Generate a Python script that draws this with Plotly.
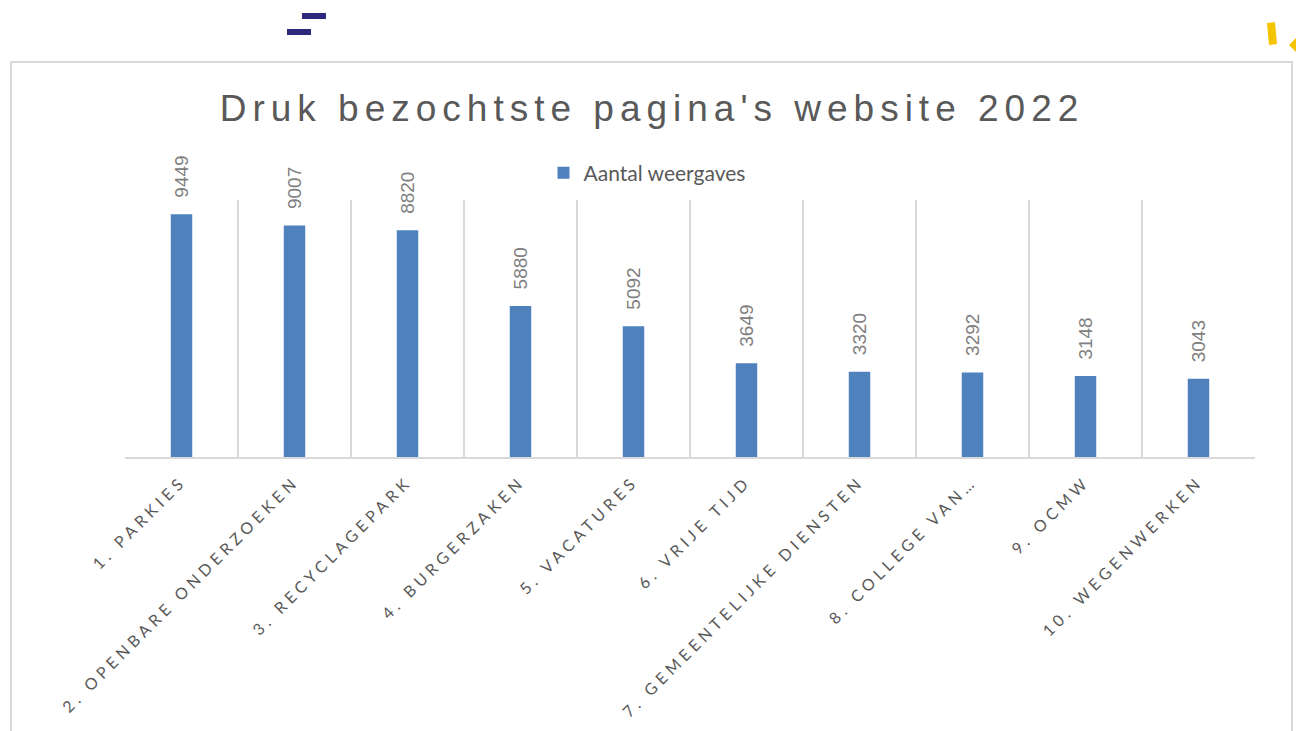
import plotly.graph_objects as go

categories = [
    "1. PARKIES",
    "2. OPENBARE ONDERZOEKEN",
    "3. RECYCLAGEPARK",
    "4. BURGERZAKEN",
    "5. VACATURES",
    "6. VRIJE TIJD",
    "7. GEMEENTELIJKE DIENSTEN",
    "8. COLLEGE VAN…",
    "9. OCMW",
    "10. WEGENWERKEN",
]
values = [9449, 9007, 8820, 5880, 5092, 3649, 3320, 3292, 3148, 3043]
series_name = "Aantal weergaves"
title_text = "Druk bezochtste pagina's website 2022"

W, H = 1296, 731
PL, PR, PT, PB = 125, 1255, 200, 457


def px_x(x):
    return (x - PL) / (PR - PL)


def px_y(y):
    return (PB - y) / (PB - PT)


GRID = "#d9d9d9"
TEXT = "#595959"
BAR = "#4f81bd"

fig = go.Figure()
fig.add_trace(go.Bar(
    x=categories, y=values, name=series_name,
    marker=dict(color=BAR, line=dict(width=0)),
    showlegend=True,
))

for c, v in zip(categories, values):
    fig.add_annotation(
        x=c, y=v, xref="x", yref="y", text=str(v), textangle=-90,
        showarrow=False, yanchor="bottom", xanchor="center", yshift=14,
        font=dict(family="Liberation Sans, Arial", size=19, color="#808080"),
    )

ticktext = [f'<span style="letter-spacing:4.4px">{c}</span>' for c in categories]

shapes = [
    # chart frame
    dict(type="rect", xref="paper", yref="paper",
         x0=px_x(11), x1=px_x(1292), y0=px_y(62), y1=px_y(760),
         line=dict(color=GRID, width=2), fillcolor="rgba(0,0,0,0)", layer="below"),
    # decorative navy dashes
    dict(type="rect", xref="paper", yref="paper",
         x0=px_x(302), x1=px_x(326), y0=px_y(13), y1=px_y(19),
         line=dict(width=0), fillcolor="#2b2a7c"),
    dict(type="rect", xref="paper", yref="paper",
         x0=px_x(287), x1=px_x(311), y0=px_y(29), y1=px_y(35),
         line=dict(width=0), fillcolor="#2b2a7c"),
]
# decorative yellow marks
p = [(1267, 23), (1275, 22), (1277, 44), (1269, 45)]
path = "M " + " L ".join(f"{px_x(a)},{px_y(b)}" for a, b in p) + " Z"
shapes.append(dict(type="path", xref="paper", yref="paper", path=path,
                   line=dict(width=0), fillcolor="#f5c400"))
p2 = [(1296, 38), (1289, 45), (1296, 52)]
path2 = "M " + " L ".join(f"{px_x(a)},{px_y(b)}" for a, b in p2) + " Z"
shapes.append(dict(type="path", xref="paper", yref="paper", path=path2,
                   line=dict(width=0), fillcolor="#f5c400"))

fig.update_layout(
    width=W, height=H, autosize=False,
    margin=dict(l=PL, r=W - PR, t=PT, b=H - PB, pad=0, autoexpand=False),
    paper_bgcolor="white", plot_bgcolor="white",
    bargap=0.81,
    title=dict(
        text=f'<span style="letter-spacing:6px">{title_text}</span>',
        x=px_x(652), xref="paper", xanchor="center",
        y=1 - 108 / H, yref="container", yanchor="middle",
        font=dict(family="Liberation Sans, Arial", size=37, color=TEXT),
    ),
    legend=dict(
        orientation="h", x=px_x(647), xanchor="center", y=px_y(173), yanchor="middle",
        font=dict(family="Lato, Calibri", size=21, color=TEXT),
        bgcolor="rgba(0,0,0,0)", itemsizing="constant",
    ),
    xaxis=dict(
        type="category", tickmode="array", tickvals=categories, ticktext=ticktext,
        tickangle=-45, tickson="boundaries", showgrid=True, gridcolor=GRID, gridwidth=1.5,
        showline=True, linecolor=GRID, linewidth=2, ticks="", ticklabelstandoff=7,
        tickfont=dict(family="Lato, Calibri", size=16, color=TEXT), automargin=False,
        range=[-0.5, len(categories) - 0.5], fixedrange=True,
    ),
    yaxis=dict(
        range=[0, 10000], showgrid=False, showticklabels=False, zeroline=False,
        showline=False, ticks="", fixedrange=True, automargin=False,
    ),
    shapes=shapes,
)

fig.write_html("out.html", config={"displayModeBar": False},
               post_script="document.body.style.margin='0';")
